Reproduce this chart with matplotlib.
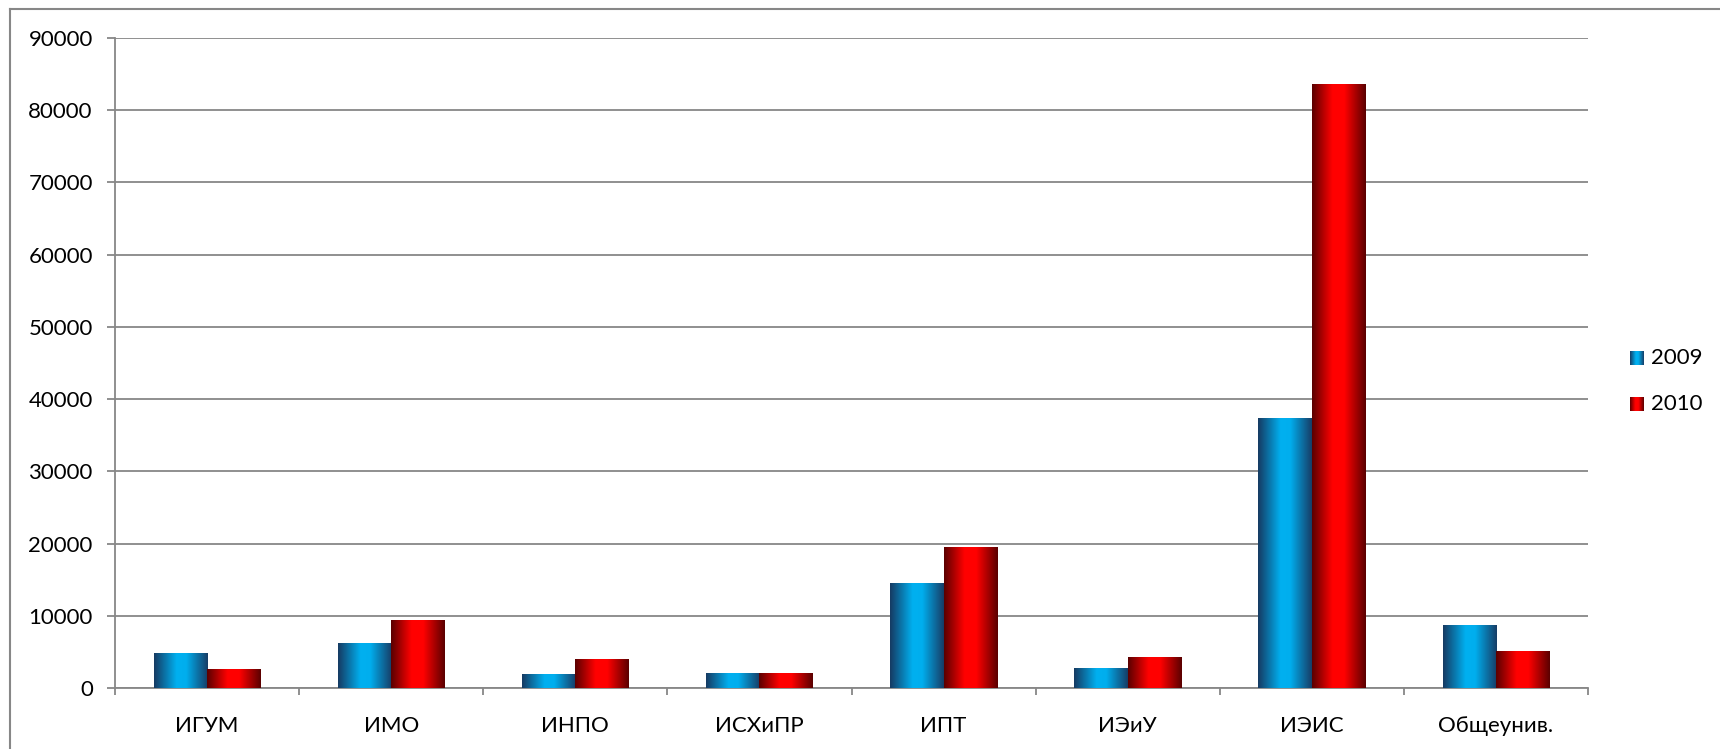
import numpy as np
import matplotlib.pyplot as plt
from matplotlib.lines import Line2D
from matplotlib.colors import LinearSegmentedColormap

plt.rcParams['font.family'] = ['Lato', 'DejaVu Sans']

# data
categories = ['ИГУМ', 'ИМО', 'ИНПО', 'ИСХиПР', 'ИПТ', 'ИЭиУ', 'ИЭИС', 'Общеунив.']
v2009 = [4800, 6100, 1900, 2050, 14400, 2750, 37300, 8700]
v2010 = [2600, 9300, 3880, 2050, 19500, 4250, 83600, 5100]
series = ['2009', '2010']
yticks = list(range(0, 90001, 10000))

W, H = 1720, 749
fig = plt.figure(figsize=(W / 100, H / 100), dpi=100)
ax = fig.add_axes([115 / W, 1 - 688 / H, (1588 - 115) / W, (688 - 38) / H])

# gradients like the Excel bar fill
blue_cm = LinearSegmentedColormap.from_list(
    'b', [(0, '#163a62'), (0.42, '#00b0f0'), (0.6, '#00aeee'), (1, '#173d66')])
red_cm = LinearSegmentedColormap.from_list(
    'r', [(0, '#5a0000'), (0.38, '#ff0000'), (0.6, '#ff0000'), (1, '#5a0000')])
grad = np.linspace(0, 1, 256).reshape(1, -1)

x = np.arange(len(categories)) + 0.5
w = 0.29
b1 = ax.bar(x - w / 2, v2009, w, color='none', edgecolor='none')
b2 = ax.bar(x + w / 2, v2010, w, color='none', edgecolor='none')
for bars, cm in [(b1, blue_cm), (b2, red_cm)]:
    for p in bars.patches:
        x0, y0 = p.get_x(), p.get_y()
        ax.imshow(grad, cmap=cm, aspect='auto', zorder=3,
                  extent=[x0, x0 + p.get_width(), y0, y0 + p.get_height()])

ax.set_xlim(0, len(categories))
ax.set_ylim(0, 90000)
ax.set_yticks(yticks)
ax.set_yticklabels([str(t) for t in yticks])
ax.set_xticks(np.arange(len(categories) + 1))
ax.set_xticklabels([])
ax.set_xticks(x, minor=True)
ax.set_xticklabels(categories, minor=True)

gray = '#878787'
ax.grid(axis='y', color=gray, linewidth=1.3, zorder=0)
ax.set_axisbelow(True)
for s in ['top', 'right']:
    ax.spines[s].set_visible(False)
for s in ['left', 'bottom']:
    ax.spines[s].set_color(gray)
    ax.spines[s].set_linewidth(1.3)
ax.tick_params(axis='y', which='major', length=6, color=gray, width=1.3,
               labelsize=16, pad=10)
ax.tick_params(axis='x', which='major', length=5, color=gray, width=1.3)
ax.tick_params(axis='x', which='minor', length=0, labelsize=16, pad=20)

# legend with gradient squares
for i, (name, cm) in enumerate(zip(series, [blue_cm, red_cm])):
    yc = 358 + i * 46
    lax = fig.add_axes([1630 / W, 1 - (yc + 7) / H, 14 / W, 14 / H])
    lax.imshow(grad, cmap=cm, aspect='auto')
    lax.axis('off')
    fig.text(1651 / W, 1 - yc / H, name, fontsize=16, va='center', ha='left')

# chart area border (only top and left visible)
fig.add_artist(Line2D([10 / W, 1], [1 - 9 / H, 1 - 9 / H], color=gray, lw=1.5))
fig.add_artist(Line2D([10 / W, 10 / W], [0, 1 - 9 / H], color=gray, lw=1.5))

fig.savefig('out.png', dpi=100)
